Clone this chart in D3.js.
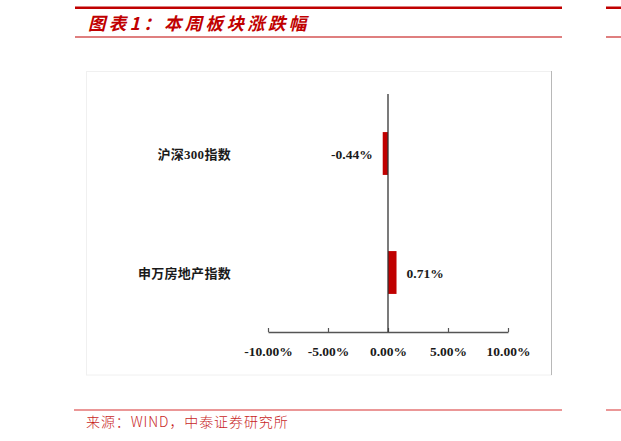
<!DOCTYPE html>
<html>
<head>
<meta charset="utf-8">
<script src="https://cdn.jsdelivr.net/npm/d3@7"></script>
<style>
  html, body { margin: 0; padding: 0; background: #fff; }
  svg { display: block; }
</style>
</head>
<body>
<div id="chart"></div>
<script>
// weekly change per index (%)
const categories = ['沪深300指数', '申万房地产指数'];
const changes = [-0.44, 0.71];
const xTicks = [-10, -5, 0, 5, 10];
const titleText = '图表1：本周板块涨跌幅';
const sourceText = '来源：WIND，中泰证券研究所';

const W = 621, H = 441;
const red = '#c00000';

const svg = d3.select('#chart')
  .append('svg')
  .attr('width', W)
  .attr('height', H);

// ---- page header / footer rules ----
svg.append('rect').attr('x', 75).attr('y', 6.5).attr('width', 487).attr('height', 2.5).attr('fill', red);
svg.append('rect').attr('x', 606).attr('y', 6.5).attr('width', 15).attr('height', 2.5).attr('fill', red);
svg.append('rect').attr('x', 75).attr('y', 36.5).attr('width', 487).attr('height', 1).attr('fill', red);
svg.append('rect').attr('x', 606).attr('y', 36.5).attr('width', 15).attr('height', 1).attr('fill', red);

svg.append('text')
  .attr('x', 88)
  .attr('y', 30)
  .attr('fill', red)
  .style('font-family', '"Noto Sans CJK SC", sans-serif')
  .style('font-weight', 700)
  .style('font-style', 'italic')
  .style('font-size', '17.5px')
  .style('letter-spacing', '3.3px')
  .text(titleText);

svg.append('rect').attr('x', 74).attr('y', 409.5).attr('width', 488).attr('height', 1).attr('fill', '#d83030');
svg.append('rect').attr('x', 606).attr('y', 409.5).attr('width', 15).attr('height', 1).attr('fill', '#d83030');

svg.append('text')
  .attr('x', 86)
  .attr('y', 427)
  .attr('fill', '#c81e1e')
  .style('font-family', '"Noto Sans CJK SC", sans-serif')
  .style('font-weight', 300)
  .style('font-size', '14px')
  .style('letter-spacing', '0.9px')
  .text(sourceText);

// ---- chart frame ----
svg.append('rect')
  .attr('x', 86.5).attr('y', 71.5)
  .attr('width', 465).attr('height', 303.5)
  .attr('fill', 'none')
  .attr('stroke', '#f0f0f0');
svg.append('line')
  .attr('x1', 551.5).attr('x2', 551.5)
  .attr('y1', 71).attr('y2', 375)
  .attr('stroke', '#b8b8b8');

// ---- scales ----
const x = d3.scaleLinear()
  .domain([-10, 10])
  .range([268, 508]);

const y = d3.scaleBand()
  .domain(categories)
  .range([94, 332])
  .paddingInner(0.64)
  .paddingOuter(0.32);

const serif = '"Liberation Serif", "Times New Roman", serif';

// x axis, ticks pointing up
const xAxis = svg.append('g')
  .attr('transform', `translate(0,${y.range()[1]})`)
  .call(d3.axisBottom(x)
    .tickValues(xTicks)
    .tickSizeInner(-4)
    .tickSizeOuter(0)
    .tickPadding(14)
    .tickFormat(d => d.toFixed(2) + '%'));

xAxis.select('.domain').attr('stroke', '#555').attr('stroke-width', 1.3);
xAxis.selectAll('.tick line').attr('stroke', '#555').attr('stroke-width', 1.2);
xAxis.selectAll('.tick text')
  .attr('fill', '#1a1a1a')
  .style('font-family', serif)
  .style('font-weight', 700)
  .style('font-size', '13.5px');

// bars
svg.selectAll('.bar')
  .data(categories)
  .enter()
  .append('rect')
  .attr('class', 'bar')
  .attr('x', (d, i) => x(Math.min(0, changes[i])))
  .attr('y', d => y(d))
  .attr('width', (d, i) => Math.abs(x(changes[i]) - x(0)))
  .attr('height', y.bandwidth())
  .attr('fill', '#c00000');

// zero line
svg.append('line')
  .attr('x1', x(0)).attr('x2', x(0))
  .attr('y1', y.range()[0]).attr('y2', y.range()[1])
  .attr('stroke', '#333')
  .attr('stroke-width', 1.3);

// value labels
svg.selectAll('.val')
  .data(categories)
  .enter()
  .append('text')
  .attr('class', 'val')
  .attr('x', (d, i) => changes[i] < 0 ? x(changes[i]) - 10 : x(changes[i]) + 10)
  .attr('y', d => y(d) + y.bandwidth() / 2 + 5)
  .attr('text-anchor', (d, i) => changes[i] < 0 ? 'end' : 'start')
  .attr('fill', '#1a1a1a')
  .style('font-family', serif)
  .style('font-weight', 700)
  .style('font-size', '13.5px')
  .text((d, i) => changes[i].toFixed(2) + '%');

// category labels
svg.selectAll('.cat')
  .data(categories)
  .enter()
  .append('text')
  .attr('class', 'cat')
  .attr('x', 231)
  .attr('y', d => y(d) + y.bandwidth() / 2 + 5)
  .attr('text-anchor', 'end')
  .attr('fill', '#1a1a1a')
  .style('font-family', `"Liberation Serif", "Noto Sans CJK SC", serif`)
  .style('font-weight', 700)
  .style('font-size', '13px')
  .style('letter-spacing', '0.3px')
  .text(d => d);
</script>
</body>
</html>
